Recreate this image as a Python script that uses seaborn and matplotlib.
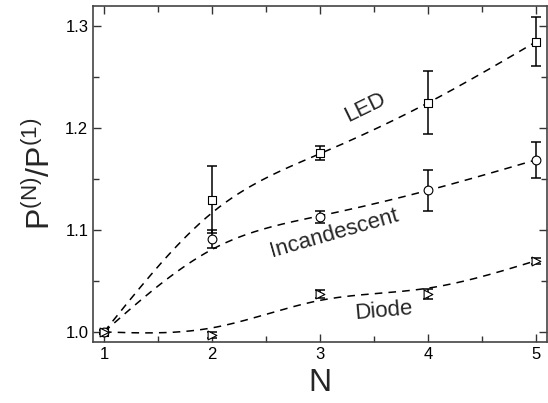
import numpy as np
import pandas as pd
import matplotlib
matplotlib.use("Agg")
import matplotlib.pyplot as plt
import seaborn as sns
from matplotlib.ticker import MultipleLocator


N = [1, 2, 3, 4, 5]

# measured points with error bars
led = [1.000, 1.130, 1.176, 1.225, 1.285]
led_err = [0.002, 0.033, 0.007, 0.031, 0.024]

incandescent = [1.000, 1.091, 1.113, 1.139, 1.169]
incandescent_err = [0.002, 0.009, 0.006, 0.020, 0.018]

diode = [1.000, 0.997, 1.037, 1.037, 1.070]
diode_err = [0.002, 0.003, 0.004, 0.005, 0.003]

# dashed guide curves (values read at N = 1..5)
led_fit = [1.000, 1.117, 1.175, 1.225, 1.285]
incandescent_fit = [1.000, 1.081, 1.114, 1.139, 1.169]
diode_fit = [1.000, 1.004, 1.031, 1.043, 1.070]

series = {
    "LED": (led, led_err, led_fit, "s"),
    "Incandescent": (incandescent, incandescent_err, incandescent_fit, "o"),
    "Diode": (diode, diode_err, diode_fit, ">"),
}


def spline(x, y, xs):
    # natural cubic spline, like Origin's spline connection
    x = np.asarray(x, float)
    y = np.asarray(y, float)
    n = len(x)
    h = np.diff(x)
    A = np.zeros((n, n))
    b = np.zeros(n)
    A[0, 0] = A[-1, -1] = 1
    for i in range(1, n - 1):
        A[i, i - 1] = h[i - 1]
        A[i, i] = 2 * (h[i - 1] + h[i])
        A[i, i + 1] = h[i]
        b[i] = 3 * ((y[i + 1] - y[i]) / h[i] - (y[i] - y[i - 1]) / h[i - 1])
    c = np.linalg.solve(A, b)
    out = np.empty_like(xs)
    for k, xv in enumerate(xs):
        i = min(np.searchsorted(x, xv, side="right") - 1, n - 2)
        dx = xv - x[i]
        bi = (y[i + 1] - y[i]) / h[i] - h[i] * (2 * c[i] + c[i + 1]) / 3
        di = (c[i + 1] - c[i]) / (3 * h[i])
        out[k] = y[i] + bi * dx + c[i] * dx ** 2 + di * dx ** 3
    return out


sns.set_style("ticks")
plt.rcParams["font.family"] = ["Liberation Sans", "DejaVu Sans"]

fig = plt.figure(figsize=(5.48, 4.03), dpi=100)
ax = fig.add_axes([0.170, 0.151, 0.828, 0.834])

x_fit = np.linspace(1, 5, 200)
for name, (vals, errs, fit, marker) in series.items():
    fit_df = pd.DataFrame({"N": x_fit, "P": spline(N, fit, x_fit)})
    sns.lineplot(data=fit_df, x="N", y="P", ax=ax, color="black",
                 linestyle=(0, (5, 4)), linewidth=1.1)
    ax.errorbar(N, vals, yerr=errs, fmt="none", ecolor="black",
                elinewidth=1.1, capsize=3.5, capthick=1.1, zorder=3)
    df = pd.DataFrame({"N": N, "P": vals})
    sns.scatterplot(data=df, x="N", y="P", ax=ax, marker=marker, s=40,
                    facecolor="white", edgecolor="black", linewidth=0.8,
                    zorder=4)

ax.text(3.42, 1.220, "LED", rotation=26, fontsize=16, ha="center", va="center")
ax.text(3.13, 1.097, "Incandescent", rotation=16, fontsize=16, ha="center", va="center")
ax.text(3.59, 1.021, "Diode", rotation=5, fontsize=16, ha="center", va="center")

ax.set_xlim(0.9, 5.1)
ax.set_ylim(0.99, 1.32)
ax.xaxis.set_major_locator(MultipleLocator(1))
ax.xaxis.set_minor_locator(MultipleLocator(0.5))
ax.yaxis.set_major_locator(MultipleLocator(0.1))
ax.yaxis.set_minor_locator(MultipleLocator(0.05))
ax.set_yticklabels([f"{t:.1f}" for t in ax.get_yticks()])
ax.tick_params(which="both", direction="in", top=True, right=True,
               labelsize=12, width=1, colors="#333333", labelcolor="black")
ax.tick_params(which="major", length=6)
ax.tick_params(which="minor", length=4)
for s in ax.spines.values():
    s.set_color("#444444")
    s.set_linewidth(1.2)

ax.set_xlabel("N", fontsize=23, labelpad=4)
ax.set_ylabel(r"P$^{\mathregular{(N)}}$/P$^{\mathregular{(1)}}$", fontsize=23, labelpad=6)

fig.savefig("out.png", dpi=100)
